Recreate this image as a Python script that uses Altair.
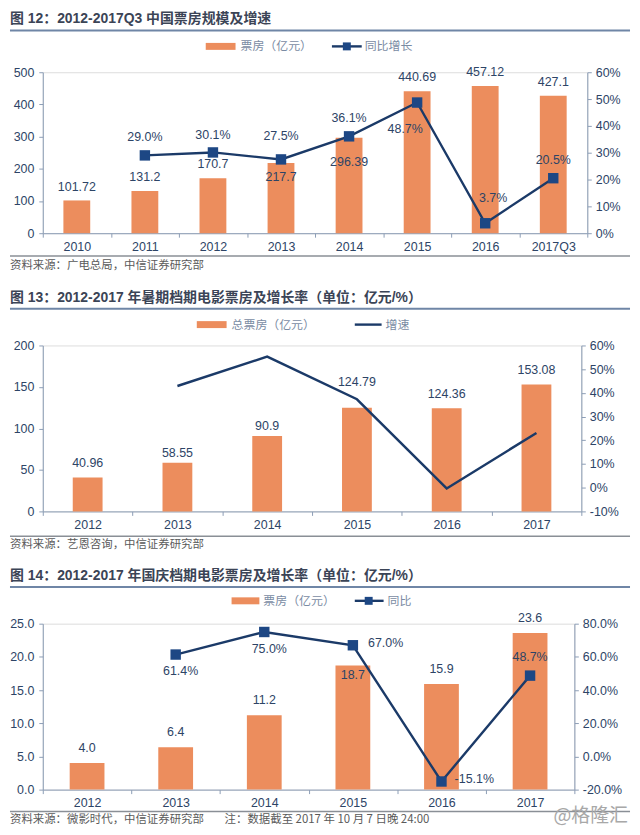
import altair as alt
import pandas as pd

# ---------------- data ----------------
cats1 = ["2010", "2011", "2012", "2013", "2014", "2015", "2016", "2017Q3"]
box1 = [101.72, 131.2, 170.7, 217.7, 296.39, 440.69, 457.12, 427.1]
yoy1 = [None, 29.0, 30.1, 27.5, 36.1, 48.7, 3.7, 20.5]

cats2 = ["2012", "2013", "2014", "2015", "2016", "2017"]
box2 = [40.96, 58.55, 90.9, 124.79, 124.36, 153.08]
yoy2 = [None, 42.9, 55.3, 37.3, -0.3, 23.1]

cats3 = ["2012", "2013", "2014", "2015", "2016", "2017"]
box3 = [4.0, 6.4, 11.2, 18.7, 15.9, 23.6]
yoy3 = [None, 61.4, 75.0, 67.0, -15.1, 48.7]

titles = [
    "图 12：2012-2017Q3 中国票房规模及增速",
    "图 13：2012-2017 年暑期档期电影票房及增长率（单位：亿元/%）",
    "图 14：2012-2017 年国庆档期电影票房及增长率（单位：亿元/%）",
]
sources = [
    "资料来源：广电总局，中信证券研究部",
    "资料来源：艺恩咨询，中信证券研究部",
    "资料来源：微影时代，中信证券研究部",
]
note3 = "注：数据截至 2017 年 10 月 7 日晚 24:00"
bar_names = ["票房（亿元）", "总票房（亿元）", "票房（亿元）"]
line_names = ["同比增长", "增速", "同比"]
watermark = "@格隆汇"

# ---------------- style ----------------
BAR = "#EC8D5D"
LINE = "#1B3A68"
MARK = "#1D4784"
TXT = "#2D4466"
AXC = "#8C9DB5"
TITLEC = "#3B4456"
LEGC = "#7A8BA3"
SRCC = "#5A5A5A"
FONT = "Liberation Sans, Noto Sans CJK SC"
CJK = "Noto Sans CJK SC"

one = pd.DataFrame({"k": [0]})


def txt(s, x, y, size, color, font=CJK, weight="normal", align="left"):
    return alt.Chart(one).mark_text(
        text=s, align=align, baseline="middle", fontSize=size,
        color=color, font=font, fontWeight=weight
    ).encode(x=alt.value(x), y=alt.value(y))


def hrule(x1, x2, y, color, w):
    return alt.Chart(one).mark_rule(color=color, strokeWidth=w).encode(
        x=alt.value(x1), x2=alt.value(x2), y=alt.value(y))


def neg_pct(field, fmt):
    return (f"(datum.{field} < 0 ? '-' : '') + format(abs(datum.{field}), '{fmt}') + '%'")


def panel(p):
    df = pd.DataFrame({"cat": p["cats"], "v": p["box"], "g": p["yoy"]})
    xenc = alt.X(
        "cat:N", sort=p["cats"],
        scale=alt.Scale(type="band", paddingInner=0, paddingOuter=0),
        axis=alt.Axis(title=None, labelAngle=0, tickBand="extent", tickSize=4,
                      labelPadding=3, domainColor=AXC, tickColor=AXC,
                      labelColor=TXT, labelFont=FONT, labelFontSize=12.5,
                      grid=False),
    )
    lscale = alt.Scale(domain=p["ldom"], nice=False, zero=False)
    laxis = alt.Axis(title=None, orient="left", values=p["lticks"],
                     format=p["lfmt"], tickSize=4, labelPadding=5,
                     domainColor=AXC, tickColor=AXC, labelColor=TXT,
                     labelFont=FONT, labelFontSize=12.5, grid=False)
    rscale = alt.Scale(domain=p["rdom"], nice=False, zero=False)
    raxis = alt.Axis(title=None, orient="right", values=p["rticks"],
                     labelExpr=p["rexpr"], tickSize=4, labelPadding=4,
                     domainColor=AXC, tickColor=AXC, labelColor=TXT,
                     labelFont=FONT, labelFontSize=12.5, grid=False)
    base = alt.Chart(df)
    yl = alt.Y("v:Q", scale=lscale, axis=laxis)
    yr = alt.Y("g:Q", scale=rscale, axis=raxis)

    lg = p["legend"]
    deco = [
        hrule(-33, 591, p["uy"], "#6F86A6", 2),
        hrule(-33, 591, p["sepy"], "#8A8F96", 1.6),
        txt(p["title"], -33, p["ty"], 14, TITLEC, FONT, "bold"),
        alt.Chart(one).mark_rect(color=BAR).encode(
            x=alt.value(lg["sw"][0]), x2=alt.value(lg["sw"][1]),
            y=alt.value(lg["y"] - 3.5), y2=alt.value(lg["y"] + 3.5)),
        txt(p["bar_name"], lg["swt"], lg["y"], 12, LEGC),
        hrule(lg["ln"][0], lg["ln"][1], lg["y"], LINE, 2.4),
        txt(p["line_name"], lg["lnt"], lg["y"], 12, LEGC),
        txt(p["source"], -33, p["srcy"], 11.5, SRCC),
    ]
    if lg.get("mk") is not None:
        deco.append(alt.Chart(one).mark_point(shape="square", filled=True, size=64,
                                               color=MARK, opacity=1)
                    .encode(x=alt.value(lg["mk"]), y=alt.value(lg["y"])))
    deco += p.get("extra", [])

    left_layers = [base.mark_bar(color=BAR, size=p["bw"]).encode(x=xenc, y=yl)]
    for sel, dx, dy in p["vlab"]:
        left_layers.append(
            base.transform_filter(alt.FieldOneOfPredicate(field="cat", oneOf=sel))
            .transform_calculate(lbl=p["vexpr"])
            .mark_text(dx=dx, dy=dy, baseline="middle", fontSize=12.5,
                       color=TXT, font=FONT)
            .encode(x=xenc, y=yl, text="lbl:N"))
    left = alt.layer(*left_layers, *deco)

    right_layers = [base.transform_filter("isValid(datum.g)")
                    .mark_line(color=LINE, strokeWidth=2.4).encode(x=xenc, y=yr)]
    if p["markers"]:
        right_layers.append(
            base.transform_filter("isValid(datum.g)")
            .mark_point(shape="square", filled=True, size=110, color=MARK, opacity=1)
            .encode(x=xenc, y=yr))
    for sel, dx, dy in p["glab"]:
        right_layers.append(
            base.transform_filter(alt.FieldOneOfPredicate(field="cat", oneOf=sel))
            .transform_filter("isValid(datum.g)")
            .transform_calculate(lbl=neg_pct("g", ".1f"))
            .mark_text(dx=dx, dy=dy, baseline="middle", fontSize=12.5,
                       color=TXT, font=FONT)
            .encode(x=xenc, y=yr, text="lbl:N"))
    right = alt.layer(*right_layers)

    return alt.layer(left, right).resolve_scale(y="independent").properties(
        width=p["w"], height=p["h"])


p1 = dict(
    cats=cats1, box=box1, yoy=yoy1, w=548, h=162, bw=27,
    ldom=[0, 500], lticks=[0, 100, 200, 300, 400, 500], lfmt="d",
    rdom=[0, 60], rticks=[0, 10, 20, 30, 40, 50, 60],
    rexpr="datum.value + '%'",
    vexpr="toString(datum.v)",
    vlab=[(["2010", "2011", "2012", "2015", "2016", "2017Q3"], 0, -14),
          (["2013"], 0, 14), (["2014"], 0, 24)],
    glab=[(["2011", "2012", "2014", "2017Q3"], 0, -18),
          (["2013"], 0, -24), (["2016"], 8, -25), (["2015"], -12, 27)],
    markers=True,
    title=titles[0], ty=-54, uy=-42, sepy=185, srcy=195, source=sources[0],
    bar_name=bar_names[0], line_name=line_names[0],
    legend=dict(y=-26, sw=(164, 194), swt=199, ln=(291, 321), mk=306, lnt=324),
)
p2 = dict(
    cats=cats2, box=box2, yoy=yoy2, w=542, h=167, bw=30,
    ldom=[0, 200], lticks=[0, 50, 100, 150, 200], lfmt="d",
    rdom=[-10, 60], rticks=[-10, 0, 10, 20, 30, 40, 50, 60],
    rexpr="datum.value + '%'",
    vexpr="toString(datum.v)",
    vlab=[(["2012", "2016", "2017"], 0, -14), (["2013", "2014"], 0, -10),
          (["2015"], 0, -26)],
    glab=[],
    markers=False,
    title=titles[1], ty=-48, uy=-37, sepy=192, srcy=201, source=sources[1],
    bar_name=bar_names[1], line_name=line_names[1],
    legend=dict(y=-21, sw=(155, 185), swt=190, ln=(314, 341), mk=None, lnt=345),
)
p3 = dict(
    cats=cats3, box=box3, yoy=yoy3, w=535, h=167, bw=35,
    ldom=[0, 25], lticks=[0, 5, 10, 15, 20, 25], lfmt=".1f",
    rdom=[-20, 80], rticks=[-20, 0, 20, 40, 60, 80],
    rexpr="(datum.value < 0 ? '-' : '') + format(abs(datum.value), '.1f') + '%'",
    vexpr="format(datum.v, '.1f')",
    vlab=[(["2012", "2013", "2014", "2016", "2017"], 0, -15), (["2015"], 0, 10)],
    glab=[(["2013", "2014"], 5, 17), (["2015", "2016"], 33, -2), (["2017"], 0, -19)],
    markers=True,
    title=titles[2], ty=-48, uy=-37, sepy=189, srcy=198, source=sources[2],
    bar_name=bar_names[2], line_name=line_names[2],
    legend=dict(y=-23, sw=(190, 218), swt=222, ln=(314, 343), mk=328, lnt=347),
    extra=[txt(note3, 183, 198, 11.5, SRCC),
           txt(watermark, 514, 194, 19, "#A8A8A8")],
)

chart = alt.vconcat(panel(p1), panel(p2), panel(p3), spacing=113, bounds="flush").properties(
    padding=0
).configure_view(stroke=None).configure(background="white")

chart.save("out.html", embed_options={"renderer": "svg", "actions": False})
